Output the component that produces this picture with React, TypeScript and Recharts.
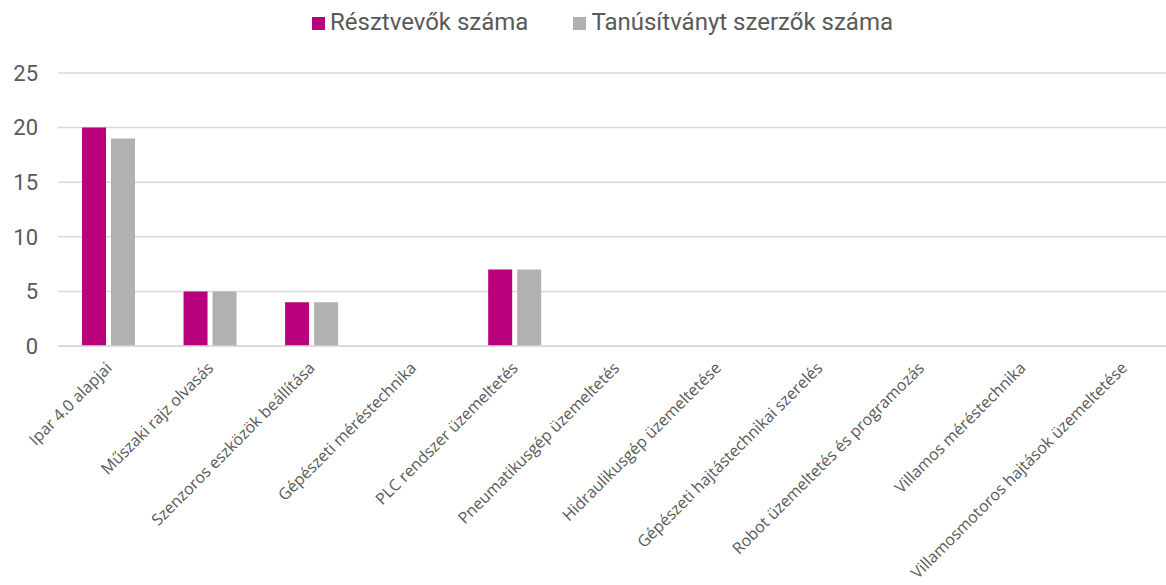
import React from 'react';
import { BarChart, Bar, XAxis, YAxis, CartesianGrid, Legend } from 'recharts';

// Course names (x axis categories)
const courses = [
  'Ipar 4.0 alapjai',
  'Műszaki rajz olvasás',
  'Szenzoros eszközök beállítása',
  'Gépészeti méréstechnika',
  'PLC rendszer üzemeltetés',
  'Pneumatikusgép üzemeltetés',
  'Hidraulikusgép üzemeltetése',
  'Gépészeti hajtástechnikai szerelés',
  'Robot üzemeltetés és programozás',
  'Villamos méréstechnika',
  'Villamosmotoros hajtások üzemeltetése',
];

const participants = [20, 5, 4, 0, 7, 0, 0, 0, 0, 0, 0];
const certified = [19, 5, 4, 0, 7, 0, 0, 0, 0, 0, 0];

const yTicks = [0, 5, 10, 15, 20, 25];

const seriesNames = ['Résztvevők száma', 'Tanúsítványt szerzők száma'];
const seriesColors = ['#b8007c', '#b1b1b1'];

const data = courses.map((name, i) => ({
  name,
  participants: participants[i],
  certified: certified[i],
}));

const TEXT = '#595959';

// Rotated category labels, text ends just right of the category centre
const CourseTick = ({ x, y, payload }: any) => (
  <g transform={`translate(${x + 4},${y + 15})`}>
    <text
      transform="rotate(-45)"
      textAnchor="end"
      fontSize={16}
      fill={TEXT}
      fontFamily="'Open Sans', sans-serif"
    >
      {payload.value}
    </text>
  </g>
);

const TopLegend = () => (
  <div
    style={{
      display: 'flex',
      alignItems: 'center',
      paddingLeft: 312,
      fontFamily: 'Roboto, sans-serif',
      fontSize: 24,
      color: TEXT,
      height: 40,
      lineHeight: '40px',
    }}
  >
    {seriesNames.map((label, idx) => (
      <div
        key={idx}
        style={{ display: 'flex', alignItems: 'center', gap: 5, marginLeft: idx === 0 ? 0 : 45 }}
      >
        <div style={{ width: 13, height: 13, backgroundColor: seriesColors[idx], marginTop: 3 }} />
        <span>{label}</span>
      </div>
    ))}
  </div>
);

export default function App() {
  return (
    <div
      style={{
        position: 'absolute',
        left: 0,
        top: 0,
        width: 1166,
        height: 585,
        overflow: 'hidden',
        background: '#fff',
      }}
    >
      <BarChart
        width={1175}
        height={585}
        data={data}
        margin={{ top: 33, right: 0, bottom: 0, left: 0 }}
        barSize={24}
        barGap={5}
      >
        <Legend
          verticalAlign="top"
          height={40}
          content={<TopLegend />}
          wrapperStyle={{ top: 2, left: 0, width: 1166 }}
        />
        <CartesianGrid vertical={false} stroke="#d9d9d9" strokeWidth={1.5} />
        <XAxis
          dataKey="name"
          interval={0}
          height={239}
          tickLine={false}
          axisLine={{ stroke: '#d9d9d9', strokeWidth: 1.5 }}
          tick={<CourseTick />}
        />
        <YAxis
          width={58}
          domain={[0, 25]}
          ticks={yTicks}
          axisLine={false}
          tickLine={false}
          tickSize={0}
          tickMargin={20}
          tick={{ fontSize: 22, fill: TEXT, fontFamily: 'Roboto, sans-serif' }}
        />
        <Bar dataKey="participants" name={seriesNames[0]} fill={seriesColors[0]} isAnimationActive={false} />
        <Bar dataKey="certified" name={seriesNames[1]} fill={seriesColors[1]} isAnimationActive={false} />
      </BarChart>
    </div>
  );
}
